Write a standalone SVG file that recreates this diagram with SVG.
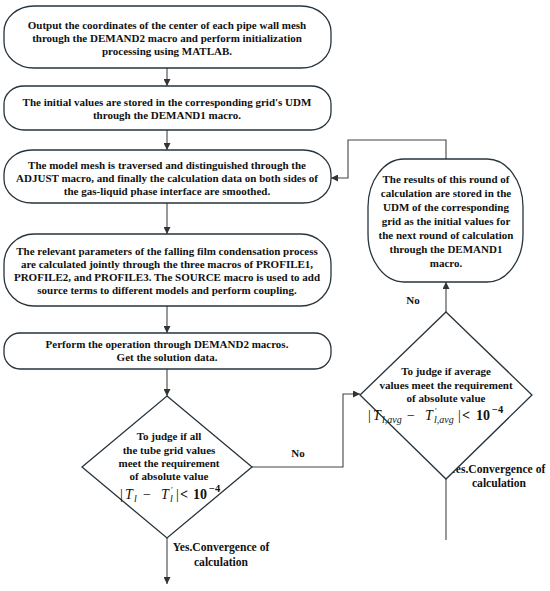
<svg xmlns="http://www.w3.org/2000/svg" width="550" height="591" viewBox="0 0 550 591" font-family="'Liberation Serif', 'Times New Roman', serif">
<defs>
<style>
.box{fill:#fff;stroke:#26343d;stroke-width:1.3}
.con{fill:none;stroke:#444;stroke-width:1.1}
text{font-family:'Liberation Serif','Times New Roman',serif;fill:#111}
.t{font-weight:bold;font-size:11px;text-anchor:middle}
.lb{font-size:11.6px}
.m{font-size:14px}
.mi{font-style:italic}
.ms{font-size:10px;font-style:italic}
.mb{font-weight:bold}
.sup{font-size:10.5px;font-weight:bold}
.pr{font-size:8.5px}
</style>
<marker id="ah" viewBox="0 0 10 10" refX="10" refY="5" markerWidth="7" markerHeight="7" markerUnits="userSpaceOnUse" orient="auto">
<path d="M0,0 L10,5 L0,10 z" fill="#333"/>
</marker>
</defs>
<rect width="550" height="591" fill="#fff"/>

<g id="connectors">
<line class="con" x1="167" y1="68" x2="167" y2="86" marker-end="url(#ah)"/>
<line class="con" x1="167" y1="130" x2="167" y2="150" marker-end="url(#ah)"/>
<line class="con" x1="167" y1="203" x2="167" y2="234" marker-end="url(#ah)"/>
<line class="con" x1="167" y1="306" x2="167" y2="333" marker-end="url(#ah)"/>
<line class="con" x1="167" y1="369" x2="167" y2="396" marker-end="url(#ah)"/>
<line class="con" x1="167" y1="538" x2="167" y2="584" marker-end="url(#ah)"/>
<polyline class="con" points="252,467 343,467 343,394 360,394" marker-end="url(#ah)"/>
<line class="con" x1="446" y1="312" x2="446" y2="282" marker-end="url(#ah)"/>
<polyline class="con" points="446,159 446,140 348,140 348,178 331,178" marker-end="url(#ah)"/>
<line class="con" x1="446" y1="479" x2="446" y2="540"/>
<text class="t" x="298" y="457">No</text>
<text class="t" x="413" y="304">No</text>
<text class="t lb" x="221" y="551">Yes.Convergence of</text>
<text class="t lb" x="221" y="566">calculation</text>
<text class="t lb" x="497" y="473">Yes.Convergence of</text>
<text class="t lb" x="499" y="487">calculation</text>
</g>

<g id="n1">
<rect class="box" x="4" y="6" width="327" height="62" rx="30" ry="26"/>
<text class="t" x="167" y="28.5">Output the coordinates of the center of each pipe wall mesh</text>
<text class="t" x="167" y="41.5">through the DEMAND2 macro and perform initialization</text>
<text class="t" x="167" y="54.5">processing using MATLAB.</text>
</g>

<g id="n2">
<rect class="box" x="4" y="86" width="327" height="44" rx="20" ry="18"/>
<text class="t" x="167" y="106">The initial values are stored in the corresponding grid's UDM</text>
<text class="t" x="167" y="119">through the DEMAND1 macro.</text>
</g>

<g id="n3">
<rect class="box" x="4" y="150" width="327" height="53" rx="28" ry="24"/>
<text class="t" x="167" y="168.5">The model mesh is traversed and distinguished through the</text>
<text class="t" x="167" y="181.5">ADJUST macro, and finally the calculation data on both sides of</text>
<text class="t" x="167" y="194.5">the gas-liquid phase interface are smoothed.</text>
</g>

<g id="n4">
<rect class="box" x="4" y="234" width="327" height="72" rx="30" ry="30"/>
<text class="t" x="167" y="254.5">The relevant parameters of the falling film condensation process</text>
<text class="t" x="167" y="267.5">are calculated jointly through the three macros of PROFILE1,</text>
<text class="t" x="167" y="280.5">PROFILE2, and PROFILE3. The SOURCE macro is used to add</text>
<text class="t" x="167" y="293.5">source terms to different models and perform coupling.</text>
</g>

<g id="n5">
<rect class="box" x="4" y="333" width="327" height="36" rx="16" ry="16"/>
<text class="t" x="167" y="348">Perform the operation through DEMAND2 macros.</text>
<text class="t" x="167" y="361">Get the solution data.</text>
</g>

<g id="d1">
<polygon class="box" points="167,396 252,467 167,538 82,467"/>
<text class="t" x="169" y="440">To judge if all</text>
<text class="t" x="169" y="453.5">the tube grid values</text>
<text class="t" x="169" y="467">meet the requirement</text>
<text class="t" x="169" y="480">of absolute value</text>
<text class="m" y="498.5"><tspan x="120">|</tspan><tspan class="mi" x="125">T</tspan><tspan class="ms" x="134" y="502">l</tspan><tspan x="143" y="498.5">−</tspan><tspan class="mi" x="161">T</tspan><tspan class="pr" x="171" y="493">′</tspan><tspan class="ms" x="170" y="502">l</tspan><tspan x="176" y="498.5">|</tspan><tspan class="mb" x="180">&lt;</tspan><tspan class="mb" x="193">10</tspan><tspan class="sup" x="209" y="492">−4</tspan></text>
</g>

<g id="d2">
<polygon class="box" points="446,312 532,395 446,479 360,395"/>
<text class="t" x="446" y="375">To judge if average</text>
<text class="t" x="446" y="388.5">values meet the requirement</text>
<text class="t" x="446" y="401.5">of absolute value</text>
<text class="m" y="419.5"><tspan x="368">|</tspan><tspan class="mi" x="373">T</tspan><tspan class="ms" x="382" y="423">l,avg</tspan><tspan x="407" y="419.5">−</tspan><tspan class="mi" x="425">T</tspan><tspan class="pr" x="435" y="414">′</tspan><tspan class="ms" x="434" y="423">l,avg</tspan><tspan x="458" y="419.5">|</tspan><tspan class="mb" x="462">&lt;</tspan><tspan class="mb" x="476">10</tspan><tspan class="sup" x="492" y="413">−4</tspan></text>
</g>

<g id="n6">
<rect class="box" x="368" y="159" width="155" height="123" rx="36" ry="48"/>
<text class="t" x="446" y="183">The results of this round of</text>
<text class="t" x="446" y="197">calculation are stored in the</text>
<text class="t" x="446" y="211">UDM of the corresponding</text>
<text class="t" x="446" y="225">grid as the initial values for</text>
<text class="t" x="446" y="239">the next round of calculation</text>
<text class="t" x="446" y="253">through the DEMAND1</text>
<text class="t" x="446" y="267">macro.</text>
</g>
</svg>
